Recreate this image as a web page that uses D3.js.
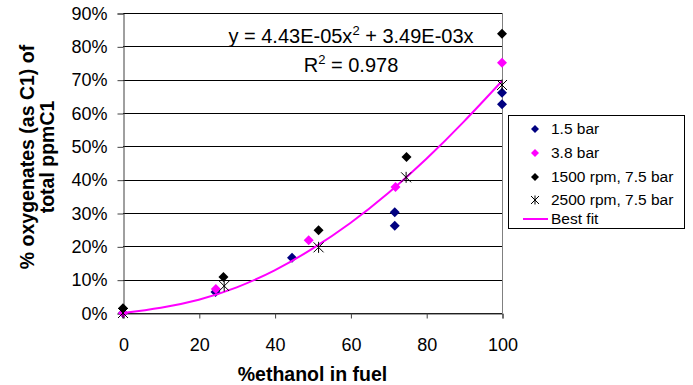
<!DOCTYPE html>
<html>
<head>
<meta charset="utf-8">
<script src="https://cdn.jsdelivr.net/npm/d3@7"></script>
<style>
  body { margin: 0; background: #fff; }
  svg { font-family: "Liberation Sans", Arial, sans-serif; }
</style>
</head>
<body>
<div id="chart"></div>
<script>
// data (percent values)
const blueX = [0, 24.4, 44.6, 71.7, 71.7, 100, 100];
const blueY = [0, 6.3, 16.6, 30.2, 26.2, 66.1, 62.6];
const pinkX = [0, 24.5, 49, 71.9, 100];
const pinkY = [0, 7.2, 21.8, 37.8, 75.1];
const blackX = [0, 26.5, 51.6, 74.8, 100];
const blackY = [1.4, 10.8, 24.8, 46.8, 83.8];
const starX = [0, 26.7, 51.6, 74.7, 100];
const starY = [0, 8.1, 19.7, 40.7, 68.4];
const fitX = [0, 10, 20, 30, 40, 50, 60, 70, 80, 90, 100];
const fitY = [0, 1.6, 4.0, 7.7, 12.8, 19.3, 27.0, 36.0, 46.2, 57.5, 69.6];

const xTicks = [0, 20, 40, 60, 80, 100];
const yTicks = [0, 10, 20, 30, 40, 50, 60, 70, 80, 90];
const legendLabels = ["1.5 bar", "3.8 bar", "1500 rpm, 7.5 bar", "2500 rpm, 7.5 bar", "Best fit"];

const width = 693, height = 385;
const margin = {top: 13, left: 123};
const plotW = 379, plotH = 300;

const svg = d3.select("#chart").append("svg")
  .attr("width", width)
  .attr("height", height);

// scales
const x = d3.scaleLinear().domain([0, 100]).range([margin.left, margin.left + plotW]);
const y = d3.scaleLinear().domain([0, 90]).range([margin.top + plotH, margin.top]);

// horizontal gridlines
svg.append("g")
  .selectAll("line")
  .data(yTicks)
  .enter().append("line")
  .attr("x1", x(0)).attr("x2", x(100))
  .attr("y1", d => Math.round(y(d)) + 0.5)
  .attr("y2", d => Math.round(y(d)) + 0.5)
  .attr("stroke", "#000")
  .attr("stroke-width", 1);

// right border of the plot area
svg.append("line")
  .attr("x1", Math.round(x(100)) + 0.5).attr("x2", Math.round(x(100)) + 0.5)
  .attr("y1", y(90)).attr("y2", y(0))
  .attr("stroke", "#808080");

// y axis
const yAxis = svg.append("g")
  .attr("transform", "translate(" + (Math.round(x(0)) + 0.5) + ",0.5)")
  .call(d3.axisLeft(y).tickValues(yTicks).tickSize(6).tickPadding(10)
    .tickFormat(d => d + "%"));
yAxis.select(".domain").attr("stroke", "#404040");
yAxis.selectAll(".tick line").attr("stroke", "#404040");
yAxis.selectAll("text").attr("font-size", 18).attr("fill", "#000")
  .attr("font-family", "Liberation Sans, Arial, sans-serif");

// x axis
const xAxis = svg.append("g")
  .attr("transform", "translate(0.5," + (Math.round(y(0)) + 0.5) + ")")
  .call(d3.axisBottom(x).tickValues(xTicks).tickSize(5).tickPadding(20));
xAxis.select(".domain").attr("stroke", "#404040");
xAxis.selectAll(".tick line").attr("stroke", "#404040");
xAxis.selectAll("text").attr("font-size", 18).attr("fill", "#000")
  .attr("font-family", "Liberation Sans, Arial, sans-serif");

// axis titles
svg.append("text")
  .attr("x", (x(0) + x(100)) / 2)
  .attr("y", 381)
  .attr("text-anchor", "middle")
  .attr("font-size", 19.5)
  .attr("font-weight", "bold")
  .text("%ethanol in fuel");

const yTitle = svg.append("text")
  .attr("transform", "translate(0,157) rotate(-90)")
  .attr("text-anchor", "middle")
  .attr("font-size", 19.5)
  .attr("font-weight", "bold");
yTitle.append("tspan").attr("x", 0).attr("y", 33.5).text("% oxygenates (as C1) of");
yTitle.append("tspan").attr("x", 0).attr("y", 54).text("total ppmC1");

// marker shapes
const diamond = "M0,-5L5,0L0,5L-5,0Z";
const star = "M-5,-5L5,5M-5,5L5,-5M0,-5.5L0,5.5";

function drawDiamonds(xs, ys, color) {
  svg.append("g")
    .selectAll("path")
    .data(xs.map((d, i) => [d, ys[i]]))
    .enter().append("path")
    .attr("d", diamond)
    .attr("transform", d => "translate(" + x(d[0]) + "," + y(d[1]) + ")")
    .attr("fill", color);
}

drawDiamonds(blueX, blueY, "#000080");

// best fit curve
const line = d3.line()
  .x(d => x(d[0]))
  .y(d => y(d[1]))
  .curve(d3.curveNatural);
svg.append("path")
  .datum(fitX.map((d, i) => [d, fitY[i]]))
  .attr("d", line)
  .attr("fill", "none")
  .attr("stroke", "#FF00FF")
  .attr("stroke-width", 2);

drawDiamonds(pinkX, pinkY, "#FF00FF");
drawDiamonds(blackX, blackY, "#000");

svg.append("g")
  .selectAll("path")
  .data(starX.map((d, i) => [d, starY[i]]))
  .enter().append("path")
  .attr("d", star)
  .attr("transform", d => "translate(" + x(d[0]) + "," + y(d[1]) + ")")
  .attr("fill", "none")
  .attr("stroke", "#000")
  .attr("stroke-width", 1);

// trendline equation
const eq = svg.append("text")
  .attr("x", 351)
  .attr("y", 43)
  .attr("text-anchor", "middle")
  .attr("font-size", 20);
eq.append("tspan").text("y = 4.43E-05x");
eq.append("tspan").attr("font-size", 13).attr("dy", -8).text("2");
eq.append("tspan").attr("dy", 8).text(" + 3.49E-03x");

const r2 = svg.append("text")
  .attr("x", 351)
  .attr("y", 72)
  .attr("text-anchor", "middle")
  .attr("font-size", 20);
r2.append("tspan").text("R");
r2.append("tspan").attr("font-size", 13).attr("dy", -8).text("2");
r2.append("tspan").attr("dy", 8).text(" = 0.978");

// legend
const legend = svg.append("g");
legend.append("rect")
  .attr("x", 508.5).attr("y", 115.5)
  .attr("width", 176).attr("height", 113)
  .attr("fill", "#fff")
  .attr("stroke", "#000");

const rowY = [129, 153, 177, 200, 219];
const legendColors = ["#000080", "#FF00FF", "#000"];

legendLabels.forEach(function(label, i) {
  const g = legend.append("g").attr("transform", "translate(0," + rowY[i] + ")");
  if (i < 3) {
    g.append("path").attr("d", "M0,-4L4,0L0,4L-4,0Z")
      .attr("transform", "translate(535,0)")
      .attr("fill", legendColors[i]);
  } else if (i === 3) {
    g.append("path").attr("d", "M-4,-4L4,4M-4,4L4,-4M0,-4.5L0,4.5")
      .attr("transform", "translate(535,0)")
      .attr("stroke", "#000").attr("fill", "none");
  } else {
    g.append("line")
      .attr("x1", 523).attr("x2", 548)
      .attr("stroke", "#FF00FF").attr("stroke-width", 2);
  }
  g.append("text")
    .attr("x", 551)
    .attr("y", 0)
    .attr("dy", "0.35em")
    .attr("font-size", 15.5)
    .text(label);
});
</script>
</body>
</html>
